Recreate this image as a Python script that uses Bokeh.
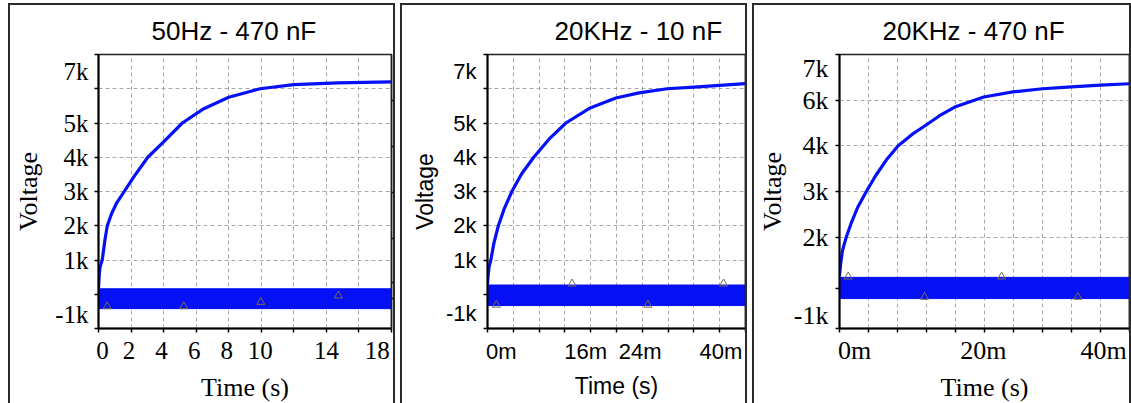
from bokeh.plotting import figure
from bokeh.layouts import row
from bokeh.models import FixedTicker, Range1d, LinearAxis
from bokeh.embed import file_html
from bokeh.resources import INLINE

BLUE = "#0610f5"
MARK = "#7a6c52"
GRID = "#a9a9a9"
SERIF = "Liberation Serif"
SANS = "Liberation Sans"
BORDER = 2

# ---------------- data ----------------
titles = ["50Hz - 470 nF", "20KHz - 10 nF", "20KHz - 470 nF"]

# Panel 1 : 50Hz - 470 nF   (time in s, voltage in V)
p1_time = [0, 0.05, 0.1, 0.23, 0.4, 0.54, 0.8, 1.1, 1.58, 2.2, 3.03, 4.0, 5.15, 6.4, 8.0, 9.92, 12.0, 14.7, 18.0]
p1_volt = [160, 600, 800, 1000, 1600, 2000, 2350, 2650, 3000, 3450, 4000, 4450, 5000, 5400, 5750, 6000, 6120, 6170, 6200]
p1_band = [-420, 160]
p1_mark_time = [0.53, 5.24, 9.97, 14.74]
p1_mark_volt = [-355, -355, -229, -41]
p1_xticks = [0, 2, 4, 6, 8, 10, 12, 14, 16, 18]
p1_yticks = [-1000, 0, 1000, 2000, 3000, 4000, 5000, 6000, 7000]
p1_ygrid = [0, 1000, 2000, 3000, 4000, 5000, 6000]
p1_rticks = [-110, 330, 1630, 2965, 4310, 5650]
p1_xlabel_vals = [0, 2, 4, 6, 8, 10, 14, 18]
p1_xlabel_txt = ["0", "2", "4", "6", "8", "10", "14", "18"]
p1_ylabel_vals = [-1000, 1000, 2000, 3000, 4000, 5000, 7000]
p1_ylabel_txt = ["-1k", "1k", "2k", "3k", "4k", "5k", "7k"]

# Panel 2 : 20KHz - 10 nF
p2_time = [0, 0.0001, 0.00025, 0.00052, 0.001, 0.00168, 0.0026, 0.00377, 0.0053, 0.00717, 0.0095,
           0.01215, 0.0158, 0.0199, 0.0235, 0.02785, 0.032, 0.036, 0.04]
p2_volt = [280, 560, 800, 1000, 1500, 2000, 2500, 3000, 3520, 4000, 4520, 5000, 5430, 5730, 5880,
           6000, 6050, 6100, 6150]
p2_band = [-330, 270]
p2_mark_time = [0.00138, 0.01312, 0.02486, 0.0366]
p2_mark_volt = [-310, 310, -310, 310]
p2_xticks = [0, 0.004, 0.008, 0.012, 0.016, 0.02, 0.024, 0.028, 0.032, 0.036, 0.04]
p2_yticks = [-1000, 0, 1000, 2000, 3000, 4000, 5000, 6000, 7000]
p2_ygrid = [0, 1000, 2000, 3000, 4000, 5000, 6000]
p2_rticks = [0, 1280, 2410, 3550, 4710, 5870]
p2_xlabel_vals = [0, 0.016, 0.024, 0.04]
p2_xlabel_txt = ["0m", "16m", "24m", "40m"]
p2_ylabel_vals = [-1000, 1000, 2000, 3000, 4000, 5000, 7000]
p2_ylabel_txt = ["-1k", "1k", "2k", "3k", "4k", "5k", "7k"]

# Panel 3 : 20KHz - 470 nF
p3_time = [0, 0.00015, 0.0004, 0.00093, 0.0016, 0.0025, 0.0037, 0.005, 0.0065, 0.0081, 0.01, 0.0118,
           0.0138, 0.0159, 0.0199, 0.0239, 0.028, 0.032, 0.036, 0.04]
p3_volt = [1150, 1400, 1700, 2000, 2300, 2650, 3000, 3350, 3700, 4000, 4250, 4440, 4660, 4850, 5070,
           5180, 5250, 5290, 5330, 5360]
p3_band = [655, 1120]
p3_mark_time = [0.00121, 0.01173, 0.02236, 0.03288]
p3_mark_volt = [1135, 690, 1135, 690]
p3_xticks = [0, 0.004, 0.008, 0.012, 0.016, 0.02, 0.024, 0.028, 0.032, 0.036, 0.04]
p3_yticks = [0, 880, 2000, 3000, 4000, 5000, 6000]
p3_ygrid = [880, 2000, 3000, 4000, 5000]
p3_rticks = [880, 2000, 3000, 4000, 5000]
p3_xlabel_vals = [0, 0.02, 0.04]
p3_xlabel_txt = ["0m", "20m", "40m"]
p3_ylabel_vals = [0, 2000, 3000, 4000, 5000, 6000]
p3_ylabel_txt = ["-1k", "2k", "3k", "4k", "6k", "7k"]

# pixel nudges of tick labels (the original pushes the end labels inwards); y: + is up
p1_xnudge = [4, -2, -2, -2, -2, -1, 0, -14]
p1_ynudge = [13.5, 0, 0, 0, 0, 0, -16.5]
p2_xnudge = [13.5, -5, -2, -24.3]
p2_ynudge = [14.4, 0, 0, 0, 0, 0, -16.3]
p3_xnudge = [15, -1, -25.5]
p3_ynudge = [12.5, 0, 0, 0, 0, -14.3]


def style_ticks_only(ax, length=4):
    ax.axis_line_color = "black"
    ax.axis_line_width = 2
    ax.major_tick_line_color = "black"
    ax.major_tick_line_width = 1.5
    ax.major_tick_in = 0
    ax.major_tick_out = length
    ax.minor_tick_line_color = None
    ax.major_label_standoff = 0
    ax.major_label_text_font_size = "1px"


def label_axis(vals, txts, nudges, px_per_unit, font, size, standoff, title, tstand, lfont, lsize):
    pos = [round(v + n / px_per_unit, 9) for v, n in zip(vals, nudges)]
    return LinearAxis(ticker=FixedTicker(ticks=pos),
                      major_label_overrides={p: t for p, t in zip(pos, txts)},
                      axis_line_color=None, major_tick_line_color=None, minor_tick_line_color=None,
                      major_tick_in=0, major_tick_out=0, major_label_standoff=standoff,
                      major_label_text_font=font, major_label_text_font_size=size,
                      major_label_text_color="black",
                      axis_label=title, axis_label_standoff=tstand, axis_label_text_font=lfont,
                      axis_label_text_font_size=lsize, axis_label_text_font_style="normal",
                      axis_label_text_color="black")


def panel(cfg):
    xr = Range1d(cfg["t"][0], cfg["t"][-1])
    yr = Range1d(*cfg["yr"])
    W, H = cfg["size"]
    mbl, mbr, mbt, mbb = cfg["mb"]
    fw, fh = W - 2 * BORDER - mbl - mbr, H - 2 * BORDER - mbt - mbb
    p = figure(width=W, height=H,
               min_border_left=mbl, min_border_right=mbr, min_border_top=mbt, min_border_bottom=mbb,
               x_range=xr, y_range=yr, output_backend="svg", toolbar_location=None,
               margin=cfg["margin"], styles={"border": f"{BORDER}px solid #2b2b2b"},
               background_fill_color="white", border_fill_color="white")
    p.title.text = cfg["title"]
    p.title.align = "left"
    p.title.offset = cfg["title_off"]
    p.title.text_font = SANS
    p.title.text_font_size = "26px"
    p.title.text_font_style = "normal"
    p.title.text_color = "black"
    p.title.standoff = 17

    p.outline_line_color = "#222222"
    p.outline_line_width = 1.5

    # inner axes: tick marks only
    xin, yin = p.xaxis[0], p.yaxis[0]
    xin.ticker = FixedTicker(ticks=cfg["xticks"])
    xin.major_label_overrides = {k: "" for k in cfg["xticks"]}
    yin.ticker = FixedTicker(ticks=cfg["yticks"])
    yin.major_label_overrides = {k: "" for k in cfg["yticks"]}
    style_ticks_only(xin)
    style_ticks_only(yin)

    tf, ts, lf, ls = cfg["fonts"]
    xppu = fw / (xr.end - xr.start)
    yppu = fh / (yr.end - yr.start)
    xl = label_axis(cfg["xl"][0], cfg["xl"][1], cfg["xl"][2], xppu, tf, ts, cfg["xstand"][0],
                    "Time (s)", cfg["xstand"][1], lf, ls)
    p.add_layout(xl, "below")
    yl = label_axis(cfg["yl"][0], cfg["yl"][1], cfg["yl"][2], yppu, tf, ts, cfg["ystand"][0],
                    "Voltage", cfg["ystand"][1], lf, ls)
    p.add_layout(yl, "left")

    p.xgrid.ticker = FixedTicker(ticks=cfg["xticks"][1:-1])
    p.ygrid.ticker = FixedTicker(ticks=cfg["ygrid"])
    for g in (p.xgrid[0], p.ygrid[0]):
        g.grid_line_color = GRID
        g.grid_line_dash = "4 3"
        g.grid_line_width = 1

    # right-hand tick marks
    p.extra_y_ranges = {"r": Range1d(*cfg["yr"])}
    rax = LinearAxis(y_range_name="r", ticker=FixedTicker(ticks=cfg["rticks"]),
                     major_label_overrides={k: "" for k in cfg["rticks"]})
    style_ticks_only(rax)
    rax.axis_line_color = "#222222"
    rax.axis_line_width = 1.5
    p.add_layout(rax, "right")

    # square-wave input (dense, appears as a solid band) and charging curve
    t = cfg["t"]
    p.quad(left=[t[0]], right=[t[-1]], bottom=[cfg["band"][0]], top=[cfg["band"][1]],
           fill_color=BLUE, line_color=BLUE, line_width=1)
    p.line(t, cfg["v"], line_color=BLUE, line_width=3.2, line_join="round")
    p.scatter(cfg["mt"], cfg["mv"], marker="triangle", size=8, fill_color=None,
              line_color=MARK, line_width=1)
    return p


c1 = dict(title=titles[0], t=p1_time, v=p1_volt, band=p1_band, mt=p1_mark_time, mv=p1_mark_volt,
          yr=(-1000, 7000), xticks=p1_xticks, yticks=p1_yticks, ygrid=p1_ygrid, rticks=p1_rticks,
          xl=(p1_xlabel_vals, p1_xlabel_txt, p1_xnudge), yl=(p1_ylabel_vals, p1_ylabel_txt, p1_ynudge),
          fonts=(SERIF, "25px", SERIF, "26px"), size=(387, 414), mb=(88, 6, 49, 88),
          margin=(3, 0, 0, 8), title_off=53, xstand=(9, 11), ystand=(6, 9))
c2 = dict(title=titles[1], t=p2_time, v=p2_volt, band=p2_band, mt=p2_mark_time, mv=p2_mark_volt,
          yr=(-1000, 7000), xticks=p2_xticks, yticks=p2_yticks, ygrid=p2_ygrid, rticks=p2_rticks,
          xl=(p2_xlabel_vals, p2_xlabel_txt, p2_xnudge), yl=(p2_ylabel_vals, p2_ylabel_txt, p2_ynudge),
          fonts=(SANS, "22px", SANS, "23px"), size=(347, 414), mb=(85, 4, 49, 91),
          margin=(3, 0, 0, 5), title_off=67, xstand=(6, 6), ystand=(7, 5))
c3 = dict(title=titles[2], t=p3_time, v=p3_volt, band=p3_band, mt=p3_mark_time, mv=p3_mark_volt,
          yr=(0, 6000), xticks=p3_xticks, yticks=p3_yticks, ygrid=p3_ygrid, rticks=p3_rticks,
          xl=(p3_xlabel_vals, p3_xlabel_txt, p3_xnudge), yl=(p3_ylabel_vals, p3_ylabel_txt, p3_ynudge),
          fonts=(SERIF, "26px", SERIF, "26px"), size=(379, 414), mb=(85, 4, 49, 90),
          margin=(3, 0, 0, 5), title_off=43, xstand=(3, 5), ystand=(7, 4))

p = row(panel(c1), panel(c2), panel(c3))
open("out.html", "w").write(file_html(p, INLINE))
